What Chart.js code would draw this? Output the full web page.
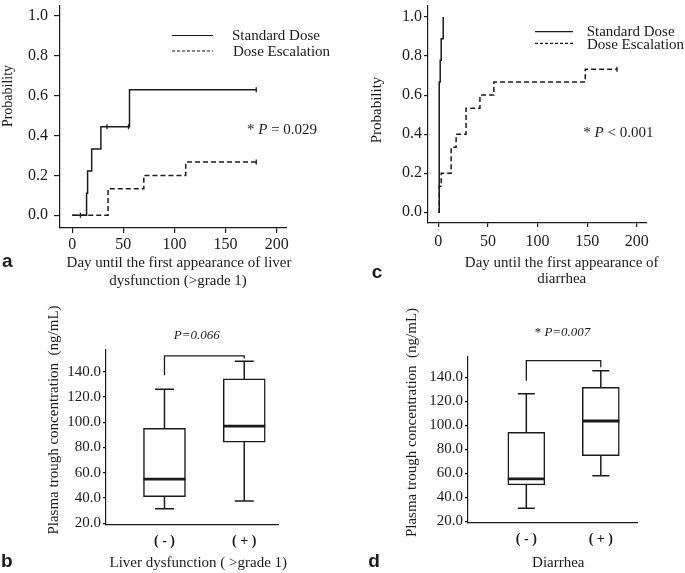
<!DOCTYPE html>
<html>
<head>
<meta charset="utf-8">
<title>Liver dysfunction / diarrhea figure</title>
<script src="https://cdn.jsdelivr.net/npm/chart.js@4.4.1/dist/chart.umd.min.js"></script>
<style>
  html, body { margin: 0; padding: 0; background: #fff; }
  body { width: 685px; height: 573px; position: relative; overflow: hidden; }
  canvas { position: absolute; }
</style>
</head>
<body>
<canvas id="chartA" width="340" height="290" style="left:0;top:0"></canvas>
<canvas id="chartC" width="345" height="290" style="left:340px;top:0"></canvas>
<canvas id="chartB" width="340" height="283" style="left:0;top:290px"></canvas>
<canvas id="chartD" width="345" height="283" style="left:340px;top:290px"></canvas>
<script>
const INK = '#1b1b1b';
const SERIF = '"Liberation Serif", "Times New Roman", serif';
const SANS = '"Liberation Sans", Arial, sans-serif';

// Tick labels
const dayTicks = [0, 50, 100, 150, 200];
const probTicks = [0, 0.2, 0.4, 0.6, 0.8, 1.0];
const concTicks = [20, 40, 60, 80, 100, 120, 140];
const groupLabels = ['( - )', '( + )'];

// (a) Liver dysfunction - cumulative probability
const liverStdDays = [0, 14, 15, 19, 28, 56, 180];
const liverStdProb = [0, 0.111, 0.222, 0.333, 0.444, 0.630, 0.630];
const liverStdCensorDays = [8, 34, 55, 180];
const liverStdCensorProb = [0, 0.444, 0.444, 0.630];
const liverEscDays = [0, 35, 70, 111, 180];
const liverEscProb = [0, 0.133, 0.200, 0.267, 0.267];
const liverEscCensorDays = [180];
const liverEscCensorProb = [0.267];

// (c) Diarrhea - cumulative probability
const diarStdDays = [0, 1, 2, 3, 5];
const diarStdProb = [0, 0.667, 0.778, 0.889, 1.0];
const diarEscDays = [0, 1, 3, 13, 18, 28, 42, 56, 148, 180];
const diarEscProb = [0, 0.133, 0.200, 0.333, 0.400, 0.533, 0.600, 0.667, 0.733, 0.733];
const diarEscCensorDays = [180];
const diarEscCensorProb = [0.733];

// (b) Trough concentration by liver dysfunction (ng/mL)
const liverLow = [31.5, 37.6];
const liverQ1 = [41.0, 84.3];
const liverMedian = [55.0, 96.9];
const liverQ3 = [95.1, 134.3];
const liverHigh = [126.2, 148.3];
const liverBracket = [137.2, 152.5, 150.4]; // left leg end, top, right leg end

// (d) Trough concentration by diarrhea (ng/mL)
const diarLow = [30.8, 58.0];
const diarQ1 = [50.3, 74.7];
const diarMedian = [55.3, 103.6];
const diarQ3 = [94.2, 131.7];
const diarHigh = [126.3, 145.5];
const diarBracket = [137.2, 153.8, 148.3];

Chart.defaults.font.family = SERIF;
Chart.defaults.color = INK;

const pts = (xs, ys) => xs.map((x, i) => ({ x, y: ys[i] }));

// Fixed axis box so the plot area lands where the figure has it
const axisFit = (size) => (scale) => {
    if (scale.isHorizontal()) scale.height = size; else scale.width = size;
    scale.paddingTop = scale.paddingBottom = scale.paddingLeft = scale.paddingRight = 0;
};

// Free text, legend keys, panel letters
const notesPlugin = (notes) => ({
    id: 'notes',
    afterDraw: (chart) => {
        const ctx = chart.ctx;
        ctx.save();
        ctx.strokeStyle = INK;
        ctx.fillStyle = INK;
        (notes.lines || []).forEach(l => {
            ctx.beginPath();
            ctx.lineWidth = 1.2;
            ctx.setLineDash(l.dash || []);
            ctx.moveTo(l.x1, l.y);
            ctx.lineTo(l.x2, l.y);
            ctx.stroke();
        });
        ctx.setLineDash([]);
        (notes.texts || []).forEach(t => {
            const runs = t.runs || [{ text: t.text }];
            const fontOf = r => `${r.italic ? 'italic ' : ''}${t.bold ? 'bold ' : ''}${t.size}px ${t.family || SERIF}`;
            ctx.save();
            ctx.translate(t.x, t.y);
            if (t.rotate) ctx.rotate(t.rotate);
            ctx.textAlign = 'left';
            ctx.textBaseline = t.baseline || 'middle';
            let w = 0;
            runs.forEach(r => { ctx.font = fontOf(r); w += ctx.measureText(r.text).width; });
            let x = t.align === 'left' ? 0 : -w / 2;
            runs.forEach(r => {
                ctx.font = fontOf(r);
                ctx.fillText(r.text, x, 0);
                x += ctx.measureText(r.text).width;
            });
            ctx.restore();
        });
        ctx.restore();
    }
});

// Whiskers, caps, medians and the significance bracket
const boxPlugin = (low, median, high, q1, q3, bracket, boxPx, capPx) => ({
    id: 'boxWhiskers',
    afterDatasetsDraw: (chart) => {
        const { ctx, scales: { x, y } } = chart;
        ctx.save();
        ctx.strokeStyle = INK;
        median.forEach((m, i) => {
            const cx = x.getPixelForValue(i + 1);
            ctx.lineWidth = 1.5;
            ctx.beginPath();
            ctx.moveTo(cx, y.getPixelForValue(q3[i]));
            ctx.lineTo(cx, y.getPixelForValue(high[i]));
            ctx.moveTo(cx, y.getPixelForValue(q1[i]));
            ctx.lineTo(cx, y.getPixelForValue(low[i]));
            ctx.moveTo(cx - capPx / 2, y.getPixelForValue(high[i]));
            ctx.lineTo(cx + capPx / 2, y.getPixelForValue(high[i]));
            ctx.moveTo(cx - capPx / 2, y.getPixelForValue(low[i]));
            ctx.lineTo(cx + capPx / 2, y.getPixelForValue(low[i]));
            ctx.stroke();
            ctx.lineWidth = 2.8;
            ctx.beginPath();
            ctx.moveTo(cx - boxPx / 2, y.getPixelForValue(m));
            ctx.lineTo(cx + boxPx / 2, y.getPixelForValue(m));
            ctx.stroke();
        });
        const x1 = x.getPixelForValue(1);
        const x2 = x.getPixelForValue(2);
        ctx.lineWidth = 1.3;
        ctx.beginPath();
        ctx.moveTo(x1, y.getPixelForValue(bracket[0]));
        ctx.lineTo(x1, y.getPixelForValue(bracket[1]));
        ctx.lineTo(x2, y.getPixelForValue(bracket[1]));
        ctx.lineTo(x2, y.getPixelForValue(bracket[2]));
        ctx.stroke();
        ctx.restore();
    }
});

const kmChart = (id, cfg) => new Chart(document.getElementById(id), {
    type: 'line',
    data: {
        datasets: [{
            label: 'Standard Dose',
            data: cfg.std,
            stepped: true,
            borderColor: INK,
            borderWidth: 1.5,
            pointRadius: 0
        }, {
            label: 'Dose Escalation',
            data: cfg.esc,
            stepped: true,
            borderColor: INK,
            borderWidth: 1.5,
            borderDash: [5, 3],
            pointRadius: 0
        }, {
            label: 'Censored',
            data: cfg.censor,
            showLine: false,
            pointStyle: 'line',
            rotation: 90,
            pointRadius: 2.5,
            borderColor: INK,
            borderWidth: 1.3
        }]
    },
    options: {
        responsive: false,
        animation: false,
        devicePixelRatio: 1,
        layout: { padding: cfg.padding },
        plugins: { legend: { display: false }, tooltip: { enabled: false } },
        scales: {
            x: {
                type: 'linear',
                min: cfg.x.min,
                max: cfg.x.max,
                afterBuildTicks: s => { s.ticks = dayTicks.map(v => ({ value: v })); },
                afterFit: axisFit(cfg.x.size),
                grid: { drawOnChartArea: false, tickLength: cfg.x.tick, color: INK, lineWidth: 1.2 },
                border: { color: INK, width: 1.2 },
                ticks: { color: INK, font: { size: 16 }, padding: cfg.x.pad, maxRotation: 0, autoSkip: false, callback: v => String(v) }
            },
            y: {
                type: 'linear',
                min: cfg.y.min,
                max: cfg.y.max,
                afterBuildTicks: s => { s.ticks = probTicks.map(v => ({ value: v })); },
                afterFit: axisFit(cfg.y.size),
                grid: { drawOnChartArea: false, tickLength: cfg.y.tick, color: INK, lineWidth: 1.2 },
                border: { color: INK, width: 1.2 },
                ticks: { color: INK, font: { size: 16 }, padding: cfg.y.pad, autoSkip: false, callback: v => v.toFixed(1) }
            }
        }
    },
    plugins: [notesPlugin(cfg.notes)]
});

const boxChart = (id, cfg) => new Chart(document.getElementById(id), {
    type: 'bar',
    data: {
        datasets: [{
            label: 'IQR',
            data: cfg.q1.map((v, i) => ({ x: i + 1, y: [v, cfg.q3[i]] })),
            backgroundColor: '#ffffff',
            borderColor: INK,
            borderWidth: 1.5,
            borderSkipped: false,
            barThickness: cfg.boxPx
        }]
    },
    options: {
        responsive: false,
        animation: false,
        devicePixelRatio: 1,
        layout: { padding: cfg.padding },
        plugins: { legend: { display: false }, tooltip: { enabled: false } },
        scales: {
            x: {
                type: 'linear',
                offset: false,
                min: cfg.x.min,
                max: cfg.x.max,
                afterBuildTicks: s => { s.ticks = groupLabels.map((_, i) => ({ value: i + 1 })); },
                afterFit: axisFit(cfg.x.size),
                grid: { display: false, offset: false },
                border: { color: INK, width: 1.2 },
                ticks: { color: INK, font: { size: 14, weight: 'bold' }, padding: cfg.x.pad, maxRotation: 0, autoSkip: false, callback: (v, i) => groupLabels[i] }
            },
            y: {
                type: 'linear',
                min: cfg.y.min,
                max: cfg.y.max,
                afterBuildTicks: s => { s.ticks = concTicks.map(v => ({ value: v })); },
                afterFit: axisFit(cfg.y.size),
                grid: { drawOnChartArea: false, tickLength: 3, color: INK, lineWidth: 1.2 },
                border: { color: INK, width: 1.2 },
                ticks: { color: INK, font: { size: 15 }, padding: cfg.y.pad, autoSkip: false, callback: v => v.toFixed(1) }
            }
        }
    },
    plugins: [
        boxPlugin(cfg.low, cfg.median, cfg.high, cfg.q1, cfg.q3, cfg.bracket, cfg.boxPx, cfg.capPx),
        notesPlugin(cfg.notes)
    ]
});

document.addEventListener('DOMContentLoaded', () => {
    kmChart('chartA', {
        std: pts(liverStdDays, liverStdProb),
        esc: pts(liverEscDays, liverEscProb),
        censor: pts(liverStdCensorDays.concat(liverEscCensorDays), liverStdCensorProb.concat(liverEscCensorProb)),
        x: { min: -12, max: 210.1, size: 62, tick: 5, pad: 2 },
        y: { min: -0.064, max: 1.054, size: 60, tick: 6, pad: 6 },
        padding: { top: 1, right: 53, left: 0, bottom: 0 },
        notes: {
            lines: [{ x1: 172, x2: 213, y: 35.5 }, { x1: 172, x2: 213, y: 51, dash: [3, 2] }],
            texts: [
                { text: 'Probability', x: 8, y: 96, size: 14, rotate: -Math.PI / 2 },
                { text: 'Day until the first appearance of liver', x: 179, y: 263, size: 15 },
                { text: 'dysfunction (>grade 1)', x: 178, y: 281.5, size: 15 },
                { text: 'Standard Dose', x: 232, y: 36, size: 15, align: 'left' },
                { text: 'Dose Escalation', x: 233, y: 52, size: 15, align: 'left' },
                { runs: [{ text: '* ' }, { text: 'P', italic: true }, { text: ' = 0.029' }], x: 247, y: 130, size: 15, align: 'left' },
                { text: 'a', x: 2, y: 267, size: 19, bold: true, family: SANS, align: 'left', baseline: 'alphabetic' }
            ]
        }
    });

    kmChart('chartC', {
        std: pts(diarStdDays, diarStdProb),
        esc: pts(diarEscDays, diarEscProb),
        censor: pts(diarEscCensorDays, diarEscCensorProb),
        x: { min: -10.3, max: 210.2, size: 67, tick: 4, pad: 5 },
        y: { min: -0.055, max: 1.06, size: 88, tick: 4, pad: 2 },
        padding: { top: 5, right: 38, left: 0, bottom: 0 },
        notes: {
            lines: [{ x1: 195, x2: 233, y: 31.7 }, { x1: 195, x2: 233, y: 43.3, dash: [3, 2] }],
            texts: [
                { text: 'Probability', x: 36.7, y: 110, size: 15, rotate: -Math.PI / 2 },
                { text: 'Day until the first appearance of', x: 221.7, y: 263, size: 15 },
                { text: 'diarrhea', x: 221.7, y: 279.5, size: 15 },
                { text: 'Standard Dose', x: 246.7, y: 32, size: 15, align: 'left' },
                { text: 'Dose Escalation', x: 247, y: 45, size: 15, align: 'left' },
                { runs: [{ text: '* ' }, { text: 'P', italic: true }, { text: ' < 0.001' }], x: 243.3, y: 132.7, size: 15, align: 'left' },
                { text: 'c', x: 31.7, y: 278, size: 19, bold: true, family: SANS, align: 'left', baseline: 'alphabetic' }
            ]
        }
    });

    boxChart('chartB', {
        low: liverLow, q1: liverQ1, median: liverMedian, q3: liverQ3, high: liverHigh, bracket: liverBracket,
        boxPx: 42, capPx: 19,
        x: { min: 0.267, max: 2.423, size: 48, pad: 0 },
        y: { min: 18.65, max: 157.2, size: 106, pad: 2 },
        padding: { top: 60, right: 62, left: 0, bottom: 0 },
        notes: {
            texts: [
                { text: 'Plasma trough concentration  (ng/mL)', x: 54, y: 130, size: 15, rotate: -Math.PI / 2 },
                { text: 'Liver dysfunction ( >grade 1)', x: 198.3, y: 273.3, size: 15 },
                { runs: [{ text: 'P=0.066', italic: true }], x: 196.7, y: 46, size: 13 },
                { text: 'b', x: 1, y: 276.7, size: 19, bold: true, family: SANS, align: 'left', baseline: 'alphabetic' }
            ]
        }
    });

    boxChart('chartD', {
        low: diarLow, q1: diarQ1, median: diarMedian, q3: diarQ3, high: diarHigh, bracket: diarBracket,
        boxPx: 37, capPx: 17,
        x: { min: 0.217, max: 2.486, size: 50, pad: 0 },
        y: { min: 18.6, max: 156.9, size: 128, pad: 2 },
        padding: { top: 67, right: 48, left: 0, bottom: 0 },
        notes: {
            texts: [
                { text: 'Plasma trough concentration  (ng/mL)', x: 71.7, y: 132.5, size: 15, rotate: -Math.PI / 2 },
                { text: 'Diarrhea', x: 218.3, y: 273.3, size: 15 },
                { runs: [{ text: '* ' }, { text: 'P=0.007', italic: true }], x: 222.5, y: 42.7, size: 13 },
                { text: 'd', x: 28.3, y: 277, size: 19, bold: true, family: SANS, align: 'left', baseline: 'alphabetic' }
            ]
        }
    });
});
</script>
</body>
</html>
